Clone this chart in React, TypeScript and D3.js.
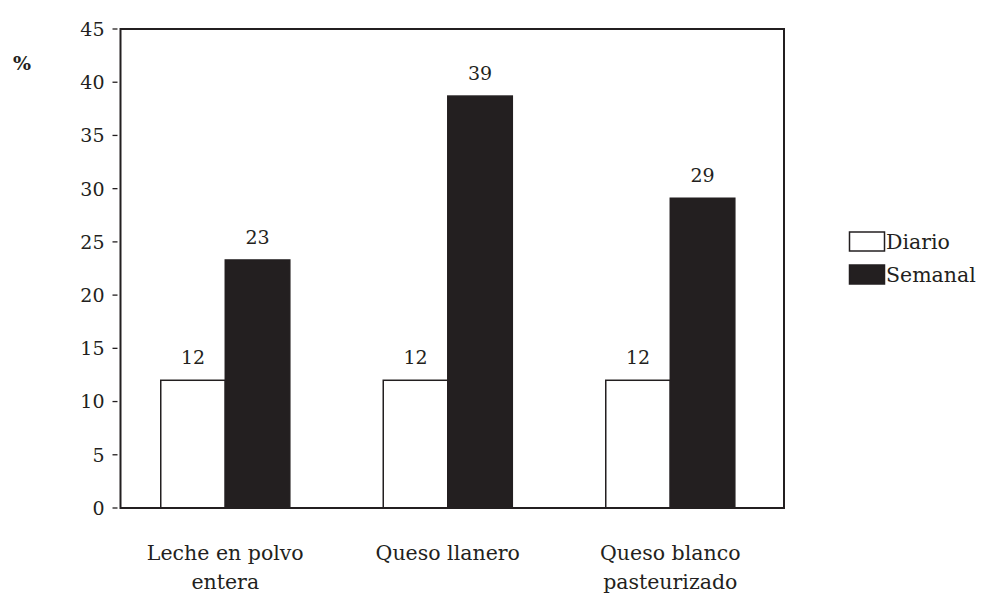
import React from "react";
import * as d3 from "d3";

const categories = [["Leche en polvo", "entera"], ["Queso llanero"], ["Queso blanco", "pasteurizado"]];
const seriesNames = ["Diario", "Semanal"];
const diario = [12, 12, 12];
const semanal = [23.3, 38.7, 29.1];
const yTicks = [0, 5, 10, 15, 20, 25, 30, 35, 40, 45];

const W = 983, H = 596;
const M = { left: 120.5, right: 784, top: 29, bottom: 508 };
const ink = "#231f20";
const font = "'DejaVu Serif', serif";
const FS = 19;
const FS_TXT = 20.5;

export default function App() {
  const x = d3.scaleBand<number>().domain([0, 1, 2]).range([M.left, M.right]).paddingInner(0.42).paddingOuter(0.201).align(0.45);
  const x1 = d3.scaleBand<number>().domain([0, 1]).range([0, x.bandwidth()]);
  const y = d3.scaleLinear().domain([0, 45]).range([M.bottom, M.top]);
  const series = [diario, semanal];
  return (
    <svg width={W} height={H} style={{ position: "absolute", left: 0, top: 0 }} fontFamily={font}>
      <rect x={0} y={0} width={W} height={H} fill="#fff" />
      {series.map((vals, s) =>
        vals.map((v, i) => (
          <g key={`${s}-${i}`}>
            <rect
              x={(x(i) as number) + (x1(s) as number)}
              y={y(v)}
              width={x1.bandwidth()}
              height={y(0) - y(v)}
              fill={s === 0 ? "#fff" : ink}
              stroke={ink}
              strokeWidth={1.5}
            />
            <text
              x={(x(i) as number) + (x1(s) as number) + x1.bandwidth() / 2}
              y={y(v) - 16}
              textAnchor="middle"
              fontSize={FS}
              fill={ink}
            >
              {Math.round(v)}
            </text>
          </g>
        ))
      )}
      <rect x={M.left} y={M.top} width={M.right - M.left} height={M.bottom - M.top} fill="none" stroke={ink} strokeWidth={2} />
      {yTicks.map((t) => (
        <g key={t}>
          <line x1={M.left - 8} x2={M.left - 3} y1={y(t)} y2={y(t)} stroke={ink} strokeWidth={1.3} />
          <text x={M.left - 16} y={y(t)} dy="0.36em" textAnchor="end" fontSize={FS} fill={ink}>
            {t}
          </text>
        </g>
      ))}
      <text x={13} y={70} fontSize={19} fontWeight="bold" fill={ink}>%</text>
      {categories.map((lines, i) => (
        <text key={i} x={(x(i) as number) + x.bandwidth() / 2} y={560} textAnchor="middle" fontSize={FS_TXT} fill={ink}>
          {lines.map((l, j) => (
            <tspan key={j} x={(x(i) as number) + x.bandwidth() / 2} dy={j === 0 ? 0 : 29}>
              {l}
            </tspan>
          ))}
        </text>
      ))}
      {seriesNames.map((n, s) => (
        <g key={n}>
          <rect x={849.5} y={232 + s * 33} width={35} height={19} fill={s === 0 ? "#fff" : ink} stroke={ink} strokeWidth={1.5} />
          <text x={886} y={249 + s * 33} fontSize={FS_TXT} fill={ink}>{n}</text>
        </g>
      ))}
    </svg>
  );
}
